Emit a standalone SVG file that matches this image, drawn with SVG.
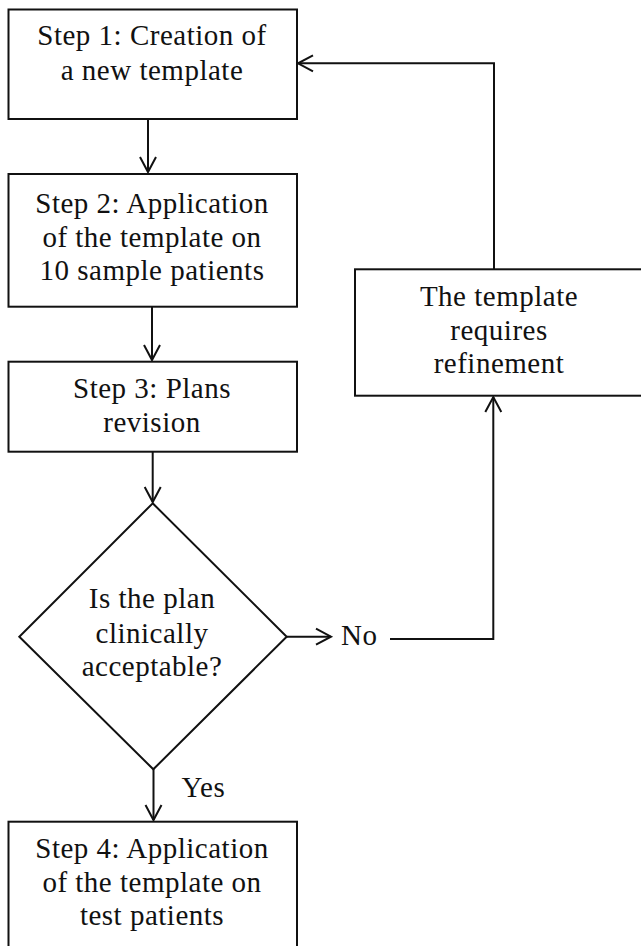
<svg xmlns="http://www.w3.org/2000/svg" width="641" height="946" viewBox="0 0 641 946">
<style>
.box{fill:#fff;stroke:#111;stroke-width:2}
.ln{fill:none;stroke:#111;stroke-width:2}
.hd{fill:none;stroke:#111;stroke-width:2;stroke-linejoin:miter}
text{font-family:"Liberation Serif","DejaVu Serif",serif;font-size:29px;letter-spacing:0.5px;fill:#111}
.c{text-anchor:middle}
</style>
<rect width="641" height="946" fill="#fff"/>
<g id="connectors">
<line class="ln" x1="148" y1="119" x2="148" y2="172"/>
<polyline class="hd" points="140,157 148,172 156,157"/>
<line class="ln" x1="152" y1="307" x2="152" y2="360"/>
<polyline class="hd" points="144,345 152,360 160,345"/>
<line class="ln" x1="152.7" y1="452" x2="152.7" y2="502"/>
<polyline class="hd" points="144.7,487 152.7,502 160.7,487"/>
<line class="ln" x1="153.5" y1="769" x2="153.5" y2="820"/>
<polyline class="hd" points="145.5,805 153.5,820 161.5,805"/>
<line class="ln" x1="287" y1="636.7" x2="331" y2="636.7"/>
<polyline class="hd" points="316,628.7 331,636.7 316,644.7"/>
<polyline class="ln" points="390,639 493.3,639 493.3,397"/>
<polyline class="hd" points="485.3,412 493.3,397 501.3,412"/>
<polyline class="ln" points="494,269 494,63.3 298,63.3"/>
<polyline class="hd" points="313,55.3 298,63.3 313,71.3"/>
<text x="341" y="645">No</text>
<text x="181.5" y="797">Yes</text>
</g>
<g id="step1">
<rect class="box" x="8.5" y="9.5" width="288.5" height="109.5"/>
<text class="c" x="152" y="45">Step 1: Creation of</text>
<text class="c" x="152" y="80">a new template</text>
</g>
<g id="step2">
<rect class="box" x="8.5" y="174" width="288.5" height="132.7"/>
<text class="c" x="152" y="213">Step 2: Application</text>
<text class="c" x="152" y="247">of the template on</text>
<text class="c" x="152" y="280">10 sample patients</text>
</g>
<g id="step3">
<rect class="box" x="8.5" y="361.7" width="288.5" height="90"/>
<text class="c" x="152" y="398">Step 3: Plans</text>
<text class="c" x="152" y="432">revision</text>
</g>
<g id="decision">
<polygon class="box" points="152.7,503.3 286.7,636.7 153.3,769.3 19.3,636.7"/>
<text class="c" x="152" y="608">Is the plan</text>
<text class="c" x="152" y="643">clinically</text>
<text class="c" x="152" y="676">acceptable?</text>
</g>
<g id="refine">
<rect class="box" x="355" y="269.3" width="289" height="126.4"/>
<text class="c" x="499" y="306">The template</text>
<text class="c" x="499" y="340">requires</text>
<text class="c" x="499" y="373">refinement</text>
</g>
<g id="step4">
<rect class="box" x="8.5" y="821.7" width="288.5" height="140"/>
<text class="c" x="152" y="858">Step 4: Application</text>
<text class="c" x="152" y="892">of the template on</text>
<text class="c" x="152" y="925">test patients</text>
</g>
</svg>
